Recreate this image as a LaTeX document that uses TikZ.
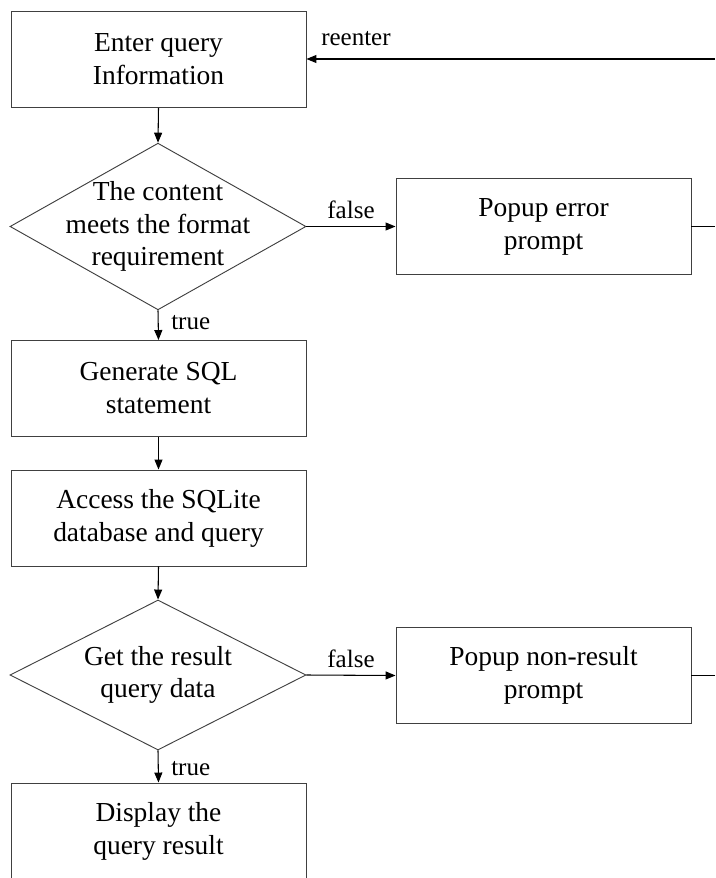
\documentclass[tikz,border=0pt]{standalone}
\usepackage{fontspec}
\setmainfont{Liberation Serif}
\usetikzlibrary{shapes.geometric,arrows.meta}
\begin{document}
\begin{tikzpicture}[x=0.75pt,y=-0.75pt,
  box/.style={draw=black!75,line width=0.7pt,rectangle,minimum width=221.25pt,minimum height=72pt,inner sep=0pt,
    align=center,font=\fontsize{20.6pt}{24.75pt}\selectfont},
  dia/.style={draw=black!75,line width=0.7pt,diamond,minimum width=222pt,minimum height=125pt,inner sep=0pt},
  dtext/.style={align=center,font=\fontsize{20.6pt}{24.5pt}\selectfont,inner sep=0pt},
  lab/.style={font=\fontsize{18.75pt}{22pt}\selectfont,inner sep=0pt},
  arr/.style={line width=0.8pt,-{Triangle[length=7.5pt,width=6pt]}},
  ln/.style={line width=0.8pt}]
\useasboundingbox (0,0) rectangle (715,878);
\node[box] (enter) at (158.5,59.5) {Enter query\\Information};
\node[dia] (d1) at (158,226.5) {};
\node[dtext] (d1t) at (158,226.5) {The content\\meets the format\\requirement};
\node[box] (err) at (543.5,226.5) {Popup error\\prompt};
\node[box] (gen) at (158.5,388.5) {Generate SQL\\statement};
\node[box] (acc) at (158.5,518) {Access the SQLite\\database and query};
\node[dia,minimum height=112.5pt] (d2) at (158,675) {};
\node[dtext] (d2t) at (158,675) {Get the result\\query data};
\node[box] (nores) at (543.5,675.5) {Popup non-result\\prompt};
\node[box] (disp) at (158.5,831) {Display the\\query result};
\coordinate (r0) at (715,59);
\coordinate (r1) at (715,226.5);
\coordinate (r2) at (715,675.5);
\draw[arr] (enter.south) -- (d1.north);
\draw[arr] (d1.east) -- (err.west);
\draw[ln] (err.east) -- (r1);
\draw[arr] (d1.south) -- (gen.north);
\draw[arr] (gen.south) -- (acc.north);
\draw[arr] (acc.south) -- (d2.north);
\draw[arr] (d2.east) -- (nores.west);
\draw[ln] (nores.east) -- (r2);
\draw[arr] (d2.south) -- (disp.north);
\draw[arr] (r0) -- (enter.east |- r0);
\node[lab,anchor=base west] (lre) at (321,45) {reenter};
\node[lab,anchor=base] (lf1) at (351,218) {false};
\node[lab,anchor=base] (lf2) at (351,667) {false};
\node[lab,anchor=base west] (lt1) at (171,329) {true};
\node[lab,anchor=base west] (lt2) at (171,775) {true};
\end{tikzpicture}
\end{document}
